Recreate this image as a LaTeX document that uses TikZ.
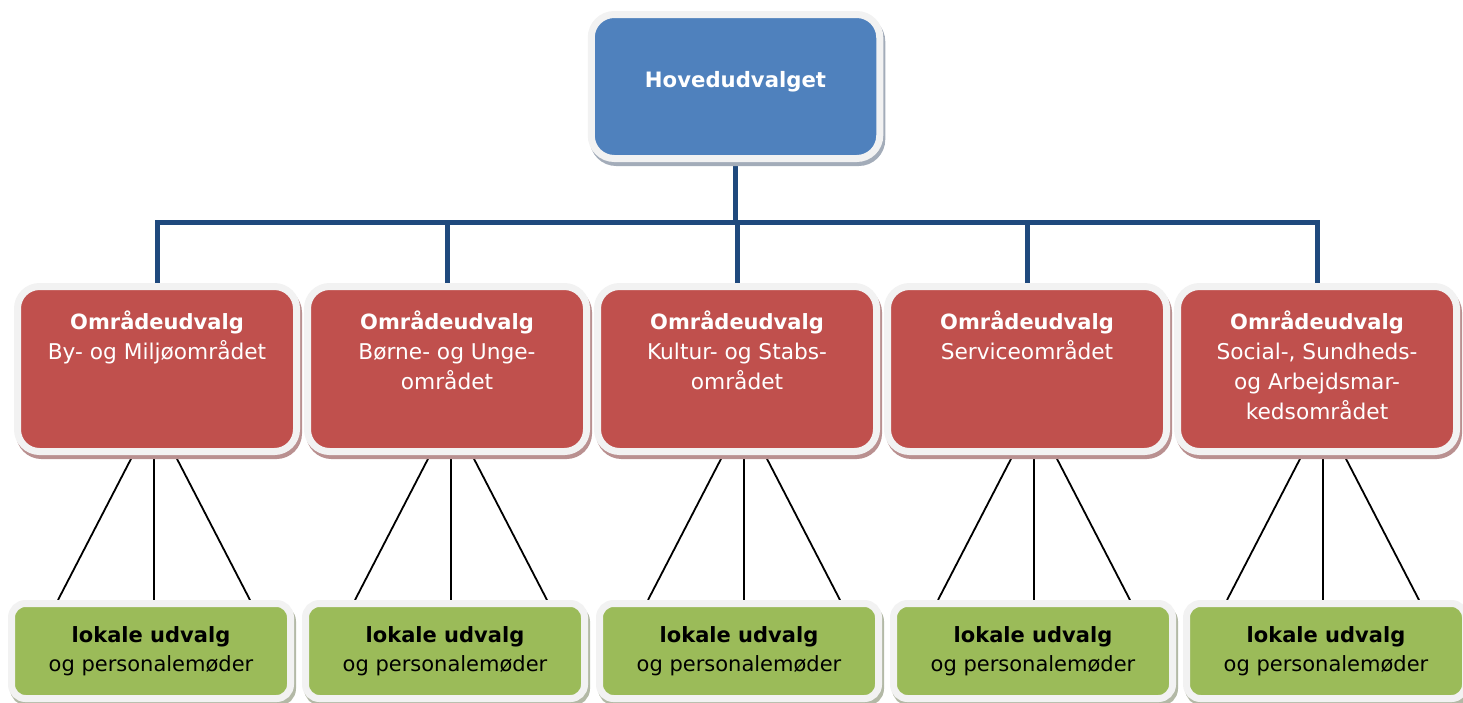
\documentclass[tikz,border=0pt]{standalone}
\usepackage{fontspec}
\setmainfont{DejaVu Sans}
\usetikzlibrary{shadows,backgrounds,calc}
\definecolor{topblue}{HTML}{4F81BD}
\definecolor{boxred}{HTML}{C0504D}
\definecolor{boxgreen}{HTML}{9BBB59}
\definecolor{framegray}{HTML}{F2F2F2}
\definecolor{busblue}{HTML}{1F497D}
\definecolor{blueshadow}{HTML}{A3ACB9}
\definecolor{redshadow}{HTML}{B99090}
\definecolor{greenshadow}{HTML}{B3B9A6}
\newcommand\hd[1]{{\fontsize{21}{30}\selectfont\bfseries #1}}
\newcommand\toptext[1]{\parbox[c][130pt][t]{270pt}{\centering\fontsize{21.2}{30}\selectfont\rule{0pt}{65.5pt}\textbf{#1}}}
\newcommand\redtext[1]{\parbox[c][150pt][t]{270pt}{\centering\fontsize{21.7}{30}\selectfont\rule{0pt}{35pt}#1}}
\newcommand\greentext[1]{\parbox[c][80pt][t]{270pt}{\centering\fontsize{21}{29}\selectfont\rule{0pt}{31pt}#1}}
\tikzset{
  framed/.style={draw=framegray, line width=7pt, inner sep=0pt},
  topbox/.style={framed, fill=topblue, rounded corners=23pt, minimum width=288.5pt, minimum height=144pt, text=white,
    drop shadow={shadow xshift=2pt, shadow yshift=-4pt, fill=blueshadow, draw=blueshadow, line width=7pt, opacity=1}},
  redbox/.style={framed, fill=boxred, rounded corners=22pt, minimum width=279pt, minimum height=165pt, text=white,
    drop shadow={shadow xshift=2pt, shadow yshift=-4pt, fill=redshadow, draw=redshadow, line width=7pt, opacity=1}},
  greenbox/.style={framed, fill=boxgreen, rounded corners=14pt, minimum width=279pt, minimum height=95pt, text=black,
    drop shadow={shadow xshift=2pt, shadow yshift=-4pt, fill=greenshadow, draw=greenshadow, line width=7pt, opacity=1}},
  busline/.style={draw=busblue, line width=5pt, line join=miter},
  lokal/.style={draw=black, line width=1.8pt}
}
\begin{document}
\begin{tikzpicture}[x=1pt,y=-1pt]
\useasboundingbox (0,0) rectangle (1463,702);
\node[topbox] (top) at (735.5,86.5) {\toptext{Hovedudvalget}};
\node[redbox] (r1) at (157,369) {\redtext{\hd{Områdeudvalg}\\By- og Miljøområdet}};
\node[redbox] (r2) at (447,369) {\redtext{\hd{Områdeudvalg}\\Børne- og Unge-\\området}};
\node[redbox] (r3) at (737,369) {\redtext{\hd{Områdeudvalg}\\Kultur- og Stabs-\\området}};
\node[redbox] (r4) at (1027,369) {\redtext{\hd{Områdeudvalg}\\Serviceområdet}};
\node[redbox] (r5) at (1317,369) {\redtext{\hd{Områdeudvalg}\\Social-, Sundheds-\\og Arbejdsmar-\\kedsområdet}};
\node[greenbox] (g1) at (151,651) {\greentext{\textbf{lokale udvalg}\\og personalemøder}};
\node[greenbox] (g2) at (445,651) {\greentext{\textbf{lokale udvalg}\\og personalemøder}};
\node[greenbox] (g3) at (739,651) {\greentext{\textbf{lokale udvalg}\\og personalemøder}};
\node[greenbox] (g4) at (1033,651) {\greentext{\textbf{lokale udvalg}\\og personalemøder}};
\node[greenbox] (g5) at (1326,651) {\greentext{\textbf{lokale udvalg}\\og personalemøder}};
\begin{scope}[on background layer]
  \coordinate (bus) at (735.5,222);
  \draw[busline] (top.south) -- (bus);
  \foreach \i/\mx in {1/154,2/451,3/744,4/1034,5/1323} {
    \draw[busline] (r\i.north) |- (bus);
    \coordinate (m\i) at (\mx,0);
    \draw[lokal] ($(m\i |- r\i.south)+(-21,0)$) -- ($(m\i |- g\i.north)+(-96,0)$);
    \draw[lokal] (m\i |- r\i.south) -- (m\i |- g\i.north);
    \draw[lokal] ($(m\i |- r\i.south)+(21,0)$) -- ($(m\i |- g\i.north)+(96,0)$);
  }
\end{scope}
\end{tikzpicture}
\end{document}
